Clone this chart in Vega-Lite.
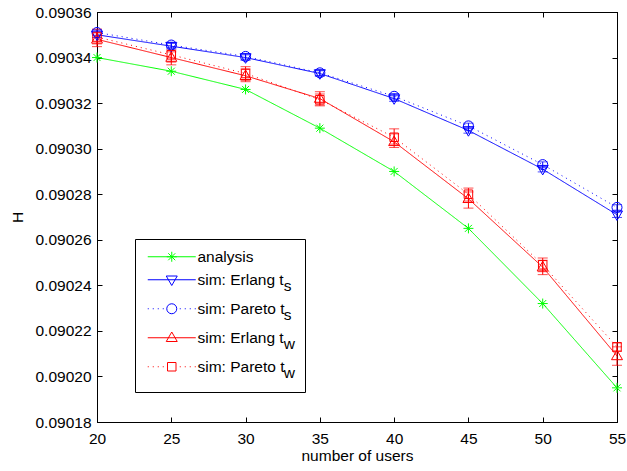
{
  "$schema": "https://vega.github.io/schema/vega-lite/v6.json",
  "width": 520,
  "height": 410,
  "autosize": {"type": "none"},
  "padding": {"left": 97, "top": 12, "right": 10, "bottom": 49},
  "background": "white",
  "config": {
    "font": "Liberation Sans",
    "view": {"stroke": "black", "strokeWidth": 1},
    "style": {"guide-label": {"lineHeight": 6}},
    "axis": {"grid": false, "domainColor": "black", "tickColor": "black", "labelColor": "black", "titleColor": "black", "titleFontWeight": "normal", "labelFontSize": 15.5, "titleFontSize": 15.5, "domainWidth": 1, "tickWidth": 1}
  },
  "data": {"values": [
    {"x": 20, "s": "analysis", "y": 0.090340},
    {"x": 25, "s": "analysis", "y": 0.090334},
    {"x": 30, "s": "analysis", "y": 0.090326},
    {"x": 35, "s": "analysis", "y": 0.090309},
    {"x": 40, "s": "analysis", "y": 0.090290},
    {"x": 45, "s": "analysis", "y": 0.090265},
    {"x": 50, "s": "analysis", "y": 0.090232},
    {"x": 55, "s": "analysis", "y": 0.090195},
    {"x": 20, "s": "sim: Erlang t_s", "y": 0.090350, "lo": 0.0903488, "hi": 0.0903512},
    {"x": 25, "s": "sim: Erlang t_s", "y": 0.090345, "lo": 0.0903438, "hi": 0.0903462},
    {"x": 30, "s": "sim: Erlang t_s", "y": 0.090340, "lo": 0.0903388, "hi": 0.0903412},
    {"x": 35, "s": "sim: Erlang t_s", "y": 0.090333, "lo": 0.0903318, "hi": 0.0903342},
    {"x": 40, "s": "sim: Erlang t_s", "y": 0.090322, "lo": 0.0903208, "hi": 0.0903232},
    {"x": 45, "s": "sim: Erlang t_s", "y": 0.090308, "lo": 0.0903068, "hi": 0.0903092},
    {"x": 50, "s": "sim: Erlang t_s", "y": 0.090291, "lo": 0.0902898, "hi": 0.0902922},
    {"x": 55, "s": "sim: Erlang t_s", "y": 0.090271, "lo": 0.0902698, "hi": 0.0902722},
    {"x": 20, "s": "sim: Pareto t_s", "y": 0.090351, "lo": 0.0903498, "hi": 0.0903522},
    {"x": 25, "s": "sim: Pareto t_s", "y": 0.0903455, "lo": 0.0903443, "hi": 0.0903467},
    {"x": 30, "s": "sim: Pareto t_s", "y": 0.0903405, "lo": 0.0903393, "hi": 0.0903417},
    {"x": 35, "s": "sim: Pareto t_s", "y": 0.0903333, "lo": 0.0903321, "hi": 0.0903345},
    {"x": 40, "s": "sim: Pareto t_s", "y": 0.090323, "lo": 0.0903218, "hi": 0.0903242},
    {"x": 45, "s": "sim: Pareto t_s", "y": 0.090310, "lo": 0.0903088, "hi": 0.0903112},
    {"x": 50, "s": "sim: Pareto t_s", "y": 0.090293, "lo": 0.0902918, "hi": 0.0902942},
    {"x": 55, "s": "sim: Pareto t_s", "y": 0.0902742, "lo": 0.090273, "hi": 0.0902754},
    {"x": 20, "s": "sim: Erlang t_w", "y": 0.090348, "lo": 0.0903448, "hi": 0.0903512},
    {"x": 25, "s": "sim: Erlang t_w", "y": 0.090340, "lo": 0.0903368, "hi": 0.0903425},
    {"x": 30, "s": "sim: Erlang t_w", "y": 0.090332, "lo": 0.0903294, "hi": 0.090335},
    {"x": 35, "s": "sim: Erlang t_w", "y": 0.090322, "lo": 0.0903188, "hi": 0.090325},
    {"x": 40, "s": "sim: Erlang t_w", "y": 0.090303, "lo": 0.0903005, "hi": 0.0903065},
    {"x": 45, "s": "sim: Erlang t_w", "y": 0.090278, "lo": 0.0902739, "hi": 0.090281},
    {"x": 50, "s": "sim: Erlang t_w", "y": 0.090248, "lo": 0.0902447, "hi": 0.090251},
    {"x": 55, "s": "sim: Erlang t_w", "y": 0.090209, "lo": 0.0902049, "hi": 0.090213},
    {"x": 20, "s": "sim: Pareto t_w", "y": 0.090349, "lo": 0.090346, "hi": 0.0903525},
    {"x": 25, "s": "sim: Pareto t_w", "y": 0.0903412, "lo": 0.090338, "hi": 0.0903433},
    {"x": 30, "s": "sim: Pareto t_w", "y": 0.090333, "lo": 0.09033, "hi": 0.090336},
    {"x": 35, "s": "sim: Pareto t_w", "y": 0.0903215, "lo": 0.0903192, "hi": 0.090324},
    {"x": 40, "s": "sim: Pareto t_w", "y": 0.090305, "lo": 0.090302, "hi": 0.0903087},
    {"x": 45, "s": "sim: Pareto t_w", "y": 0.090280, "lo": 0.090277, "hi": 0.0902827},
    {"x": 50, "s": "sim: Pareto t_w", "y": 0.090249, "lo": 0.090246, "hi": 0.090252},
    {"x": 55, "s": "sim: Pareto t_w", "y": 0.090213, "lo": 0.090211, "hi": 0.0902147}
  ]},
  "resolve": {
    "scale": {"color": "independent", "shape": "independent", "strokeDash": "independent"},
    "axis": {"x": "independent", "y": "independent"}
  },
  "layer": [
    {
      "mark": {"type": "line", "strokeWidth": 1, "clip": false},
      "encoding": {
        "x": {"field": "x", "type": "quantitative", "scale": {"domain": [20, 55], "nice": false, "zero": false},
          "axis": {"orient": "bottom", "title": "number of users", "values": [20, 25, 30, 35, 40, 45, 50, 55], "tickSize": -5, "labelPadding": 14, "titlePadding": 2, "labelFlush": false, "labelOverlap": false}},
        "y": {"field": "y", "type": "quantitative", "scale": {"domain": [0.09018, 0.09036], "nice": false, "zero": false},
          "axis": {"orient": "left", "title": "H", "values": [0.09018, 0.0902, 0.09022, 0.09024, 0.09026, 0.09028, 0.0903, 0.09032, 0.09034, 0.09036], "format": ".5f", "tickSize": -5, "labelPadding": 11, "titlePadding": 9, "labelFlush": false, "labelOverlap": false}},
        "color": {"field": "s", "type": "nominal", "legend": null,
          "scale": {"domain": ["analysis", "sim: Erlang t_s", "sim: Pareto t_s", "sim: Erlang t_w", "sim: Pareto t_w"], "range": ["#00ff00", "#0000ff", "#0000ff", "#ff0000", "#ff0000"]}},
        "strokeDash": {"field": "s", "type": "nominal", "legend": null,
          "scale": {"domain": ["analysis", "sim: Erlang t_s", "sim: Pareto t_s", "sim: Erlang t_w", "sim: Pareto t_w"], "range": [[1, 0], [1, 0], [1, 4], [1, 0], [1, 4]]}}
      }
    },
    {
      "transform": [{"filter": "isValid(datum.lo)"}],
      "mark": {"type": "rule", "strokeWidth": 1, "clip": false},
      "encoding": {
        "x": {"field": "x", "type": "quantitative", "axis": null},
        "y": {"field": "lo", "type": "quantitative", "axis": null},
        "y2": {"field": "hi"},
        "color": {"field": "s", "type": "nominal", "legend": null,
          "scale": {"domain": ["analysis", "sim: Erlang t_s", "sim: Pareto t_s", "sim: Erlang t_w", "sim: Pareto t_w"], "range": ["#00ff00", "#0000ff", "#0000ff", "#ff0000", "#ff0000"]}}
      }
    },
    {
      "transform": [{"filter": "isValid(datum.lo)"}],
      "mark": {"type": "tick", "orient": "horizontal", "size": 10, "thickness": 1, "clip": false},
      "encoding": {
        "x": {"field": "x", "type": "quantitative", "axis": null},
        "y": {"field": "lo", "type": "quantitative", "axis": null},
        "color": {"field": "s", "type": "nominal", "legend": null,
          "scale": {"domain": ["analysis", "sim: Erlang t_s", "sim: Pareto t_s", "sim: Erlang t_w", "sim: Pareto t_w"], "range": ["#00ff00", "#0000ff", "#0000ff", "#ff0000", "#ff0000"]}}
      }
    },
    {
      "transform": [{"filter": "isValid(datum.hi)"}],
      "mark": {"type": "tick", "orient": "horizontal", "size": 10, "thickness": 1, "clip": false},
      "encoding": {
        "x": {"field": "x", "type": "quantitative", "axis": null},
        "y": {"field": "hi", "type": "quantitative", "axis": null},
        "color": {"field": "s", "type": "nominal", "legend": null,
          "scale": {"domain": ["analysis", "sim: Erlang t_s", "sim: Pareto t_s", "sim: Erlang t_w", "sim: Pareto t_w"], "range": ["#00ff00", "#0000ff", "#0000ff", "#ff0000", "#ff0000"]}}
      }
    },
    {
      "mark": {"type": "point", "filled": false, "size": 100, "strokeWidth": 1, "opacity": 1, "clip": false},
      "encoding": {
        "x": {"field": "x", "type": "quantitative", "axis": null},
        "y": {"field": "y", "type": "quantitative", "axis": null},
        "color": {"field": "s", "type": "nominal", "legend": null,
          "scale": {"domain": ["analysis", "sim: Erlang t_s", "sim: Pareto t_s", "sim: Erlang t_w", "sim: Pareto t_w"], "range": ["#00ff00", "#0000ff", "#0000ff", "#ff0000", "#ff0000"]}},
        "shape": {"field": "s", "type": "nominal", "legend": null,
          "scale": {"domain": ["analysis", "sim: Erlang t_s", "sim: Pareto t_s", "sim: Erlang t_w", "sim: Pareto t_w"],
            "range": ["M-1,0H1M0,-1V1M-0.7,-0.7L0.7,0.7M-0.7,0.7L0.7,-0.7", "M-1.1,-0.75L1.1,-0.75L0,1.15Z", "circle", "M-1.1,0.75L1.1,0.75L0,-1.15Z", "M-0.85,-0.85H0.85V0.85H-0.85Z"]}}
      }
    },
    {
      "transform": [{"filter": "datum.x < 0"}],
      "mark": {"type": "point", "filled": false, "size": 100, "strokeWidth": 1, "opacity": 1},
      "encoding": {
        "x": {"field": "x", "type": "quantitative", "axis": {"orient": "top", "labels": false, "title": null, "values": [20, 25, 30, 35, 40, 45, 50, 55], "tickSize": -5}},
        "y": {"field": "y", "type": "quantitative", "axis": {"orient": "right", "labels": false, "title": null, "values": [0.09018, 0.0902, 0.09022, 0.09024, 0.09026, 0.09028, 0.0903, 0.09032, 0.09034, 0.09036], "tickSize": -5}},
        "color": {"field": "s", "type": "nominal",
          "scale": {"domain": ["analysis", "sim: Erlang t_s", "sim: Pareto t_s", "sim: Erlang t_w", "sim: Pareto t_w"], "range": ["#00ff00", "#0000ff", "#0000ff", "#ff0000", "#ff0000"]},
          "legend": {"orient": "none", "legendX": 38, "legendY": 227, "title": null, "padding": 10, "strokeColor": "black", "fillColor": "white", "symbolSize": 100, "symbolStrokeWidth": 1, "symbolOffset": 19, "labelOffset": 18, "labelFontSize": 15.5, "labelColor": "black", "labelLimit": 300, "rowPadding": 6,
            "labelExpr": "datum.value == 'analysis' ? 'analysis' : (datum.value == 'sim: Erlang t_s' ? ['sim: Erlang t', '\u200b\u00a0\u00a0\u00a0\u00a0\u00a0\u00a0\u00a0\u00a0\u00a0\u00a0\u00a0\u00a0\u00a0\u00a0\u00a0\u00a0\u00a0\u00a0\u00a0\u00a0s'] : (datum.value == 'sim: Pareto t_s' ? ['sim: Pareto t', '\u200b\u00a0\u00a0\u00a0\u00a0\u00a0\u00a0\u00a0\u00a0\u00a0\u00a0\u00a0\u00a0\u00a0\u00a0\u00a0\u00a0\u00a0\u00a0\u00a0\u00a0s'] : (datum.value == 'sim: Erlang t_w' ? ['sim: Erlang t', '\u200b\u00a0\u00a0\u00a0\u00a0\u00a0\u00a0\u00a0\u00a0\u00a0\u00a0\u00a0\u00a0\u00a0\u00a0\u00a0\u00a0\u00a0\u00a0\u00a0\u00a0w'] : ['sim: Pareto t', '\u200b\u00a0\u00a0\u00a0\u00a0\u00a0\u00a0\u00a0\u00a0\u00a0\u00a0\u00a0\u00a0\u00a0\u00a0\u00a0\u00a0\u00a0\u00a0\u00a0\u00a0w'])))"}},
        "shape": {"field": "s", "type": "nominal",
          "scale": {"domain": ["analysis", "sim: Erlang t_s", "sim: Pareto t_s", "sim: Erlang t_w", "sim: Pareto t_w"],
            "range": [
              "M-4.8,0H4.8M-1,0H1M0,-1V1M-0.7,-0.7L0.7,0.7M-0.7,0.7L0.7,-0.7",
              "M-4.8,0H4.8M-1.1,-0.75L1.1,-0.75L0,1.15Z",
              "M-4.8,0h0.2M-3.8,0h0.2M-2.8,0h0.2M-1.8,0h0.2M1.6,0h0.2M2.6,0h0.2M3.6,0h0.2M4.6,0h0.2M1,0A1,1,0,1,1,-1,0A1,1,0,1,1,1,0Z",
              "M-4.8,0H4.8M-1.1,0.75L1.1,0.75L0,-1.15Z",
              "M-4.8,0h0.2M-3.8,0h0.2M-2.8,0h0.2M-1.8,0h0.2M1.6,0h0.2M2.6,0h0.2M3.6,0h0.2M4.6,0h0.2M-0.85,-0.85H0.85V0.85H-0.85Z"
            ]},
          "legend": {"orient": "none", "legendX": 38, "legendY": 227, "title": null, "padding": 10, "strokeColor": "black", "fillColor": "white", "symbolSize": 100, "symbolStrokeWidth": 1, "symbolOffset": 19, "labelOffset": 18, "labelFontSize": 15.5, "labelColor": "black", "labelLimit": 300, "rowPadding": 6,
            "labelExpr": "datum.value == 'analysis' ? 'analysis' : (datum.value == 'sim: Erlang t_s' ? ['sim: Erlang t', '\u200b\u00a0\u00a0\u00a0\u00a0\u00a0\u00a0\u00a0\u00a0\u00a0\u00a0\u00a0\u00a0\u00a0\u00a0\u00a0\u00a0\u00a0\u00a0\u00a0\u00a0s'] : (datum.value == 'sim: Pareto t_s' ? ['sim: Pareto t', '\u200b\u00a0\u00a0\u00a0\u00a0\u00a0\u00a0\u00a0\u00a0\u00a0\u00a0\u00a0\u00a0\u00a0\u00a0\u00a0\u00a0\u00a0\u00a0\u00a0\u00a0s'] : (datum.value == 'sim: Erlang t_w' ? ['sim: Erlang t', '\u200b\u00a0\u00a0\u00a0\u00a0\u00a0\u00a0\u00a0\u00a0\u00a0\u00a0\u00a0\u00a0\u00a0\u00a0\u00a0\u00a0\u00a0\u00a0\u00a0\u00a0w'] : ['sim: Pareto t', '\u200b\u00a0\u00a0\u00a0\u00a0\u00a0\u00a0\u00a0\u00a0\u00a0\u00a0\u00a0\u00a0\u00a0\u00a0\u00a0\u00a0\u00a0\u00a0\u00a0\u00a0w'])))"}}
      }
    }
  ]
}
